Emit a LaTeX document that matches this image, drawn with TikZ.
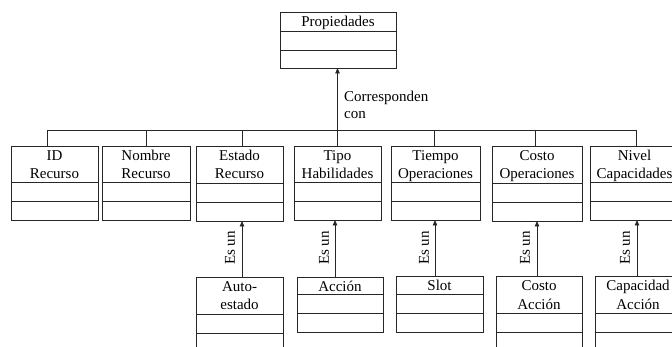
\documentclass[tikz,border=0pt]{standalone}
\usepackage{fontspec}
\setmainfont{Liberation Serif}
\usetikzlibrary{arrows.meta}
\newcommand\umlcls[7]{%
  \node[cls, minimum width=#4, minimum height={#5+#6+#7}] (#1) at (#2,#3) {};
  \draw[line] ([yshift=-#5pt]#1.north west) -- ([yshift=-#5pt]#1.north east);
  \draw[line] ([yshift=-#5pt-#6pt]#1.north west) -- ([yshift=-#5pt-#6pt]#1.north east);
}
\begin{document}
\begin{tikzpicture}[x=1pt,y=-1pt,
  line/.style={draw=black!85, line width=0.8pt},
  cls/.style={draw=black!85, line width=0.8pt, anchor=north west, inner sep=0pt, outer sep=0pt},
  ttl/.style={font=\fontsize{15}{18}\selectfont, align=center, anchor=base, inner sep=0pt},
  isa/.style={font=\fontsize{15}{18}\selectfont, rotate=90, inner sep=0pt},
  arr/.style={line, -{Triangle[length=5.5pt,width=4.5pt]}}
]
\useasboundingbox (0,0) rectangle (672,347);
\fill[white] (0,0) rectangle (672,347);
\clip (0,0) rectangle (672,347);

% classes
\umlcls{prop}{280}{12}{116}{19}{19}{18}
\umlcls{idr}{11}{146}{87}{36}{19}{19}
\umlcls{nomr}{102}{146}{88}{36}{19}{19}
\umlcls{estr}{196}{146}{87}{37}{19}{19}
\umlcls{tipo}{294}{146}{87}{36}{19}{19}
\umlcls{tiem}{391}{146}{89}{36}{19}{19}
\umlcls{cost}{492}{146}{90}{37}{19}{19}
\umlcls{nivel}{590}{146}{89}{36}{19}{19}
\umlcls{auto}{196}{277}{87}{37}{19}{19}
\umlcls{accion}{297}{277}{86}{17}{19}{19}
\umlcls{slot}{396}{276}{87}{18}{19}{19}
\umlcls{costoacc}{496}{276}{86}{37}{19}{19}
\umlcls{capacc}{595}{276}{86}{37}{19}{19}

% titles (base anchor = baseline of the last line)
\node[ttl] (tprop) at ([yshift=-15pt]prop.north) {Propiedades};
\node[ttl] (tidr) at ([yshift=-32.5pt]idr.north) {ID\\Recurso};
\node[ttl] (tnomr) at ([yshift=-32.5pt]nomr.north) {Nombre\\Recurso};
\node[ttl] (testr) at ([yshift=-32.5pt]estr.north) {Estado\\Recurso};
\node[ttl] (ttipo) at ([yshift=-32.5pt]tipo.north) {Tipo\\Habilidades};
\node[ttl] (ttiem) at ([yshift=-32.5pt]tiem.north) {Tiempo\\Operaciones};
\node[ttl] (tcost) at ([yshift=-32.5pt]cost.north) {Costo\\Operaciones};
\node[ttl] (tnivel) at ([yshift=-32.5pt]nivel.north) {Nivel\\Capacidades};
\node[ttl] (tauto) at ([yshift=-33pt]auto.north) {Auto-\\estado};
\node[ttl] (taccion) at ([yshift=-15pt]accion.north) {Acción};
\node[ttl] (tslot) at ([yshift=-15pt]slot.north) {Slot};
\node[ttl] (tcostoacc) at ([yshift=-33pt]costoacc.north) {Costo\\Acción};
\node[ttl] (tcapacc) at ([yshift=-33pt]capacc.north) {Capacidad\\Acción};

% bus
\coordinate (bus) at (0,130);
\draw[line] ([xshift=-7.5pt]idr.north) -- ([xshift=-7.5pt]idr.north |- bus)
  -- ([xshift=1.5pt]nivel.north |- bus) -- ([xshift=1.5pt]nivel.north);
\draw[line] (nomr.north) -- (nomr.north |- bus);
\draw[line] ([xshift=2.5pt]estr.north) -- ([xshift=2.5pt]estr.north |- bus);
\draw[line] ([xshift=-1.5pt]tiem.north) -- ([xshift=-1.5pt]tiem.north |- bus);
\draw[line] ([xshift=-2pt]cost.north) -- ([xshift=-2pt]cost.north |- bus);
\draw[arr] (tipo.north) -- (tipo.north |- prop.south);
\node[font=\fontsize{15}{17}\selectfont, align=left, anchor=base west, inner sep=0pt] (corr) at (344,118.5) {Corresponden\\con};

% is-a arrows
\draw[arr] ([xshift=2.5pt]auto.north) -- ([xshift=2.5pt]auto.north |- estr.south);
\draw[arr] ([xshift=-5pt]accion.north) -- ([xshift=-5pt]accion.north |- tipo.south);
\draw[arr] ([xshift=-4.5pt]slot.north) -- ([xshift=-4.5pt]slot.north |- tiem.south);
\draw[arr] ([xshift=-2pt]costoacc.north) -- ([xshift=-2pt]costoacc.north |- cost.south);
\draw[arr] ([xshift=-1pt]capacc.north) -- ([xshift=-1pt]capacc.north |- nivel.south);

\node[isa] (e1) at (230,248) {Es un};
\node[isa] (e2) at (324,248) {Es un};
\node[isa] (e3) at (424,248) {Es un};
\node[isa] (e4) at (525,248) {Es un};
\node[isa] (e5) at (625,248) {Es un};
\end{tikzpicture}
\end{document}
